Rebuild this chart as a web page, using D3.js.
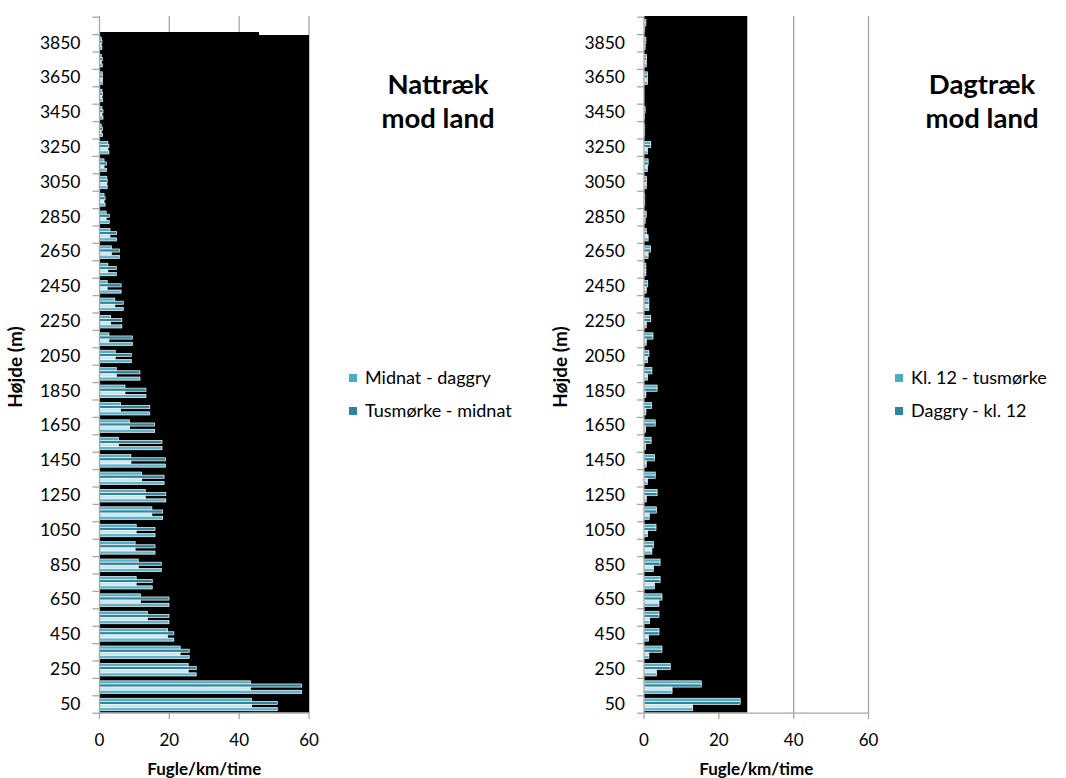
<!DOCTYPE html>
<html><head><meta charset="utf-8">
<script src="https://cdn.jsdelivr.net/npm/d3@7"></script>
<style>body{margin:0;background:#fff}svg{display:block}text{font-family:Lato,"Open Sans",sans-serif;fill:#000}</style>
</head><body>
<svg id="c" width="1066" height="778"></svg>
<script>
// Height categories (m), bottom to top
const heights = [50,150,250,350,450,550,650,750,850,950,1050,1150,1250,1350,1450,1550,1650,1750,1850,1950,2050,2150,2250,2350,2450,2550,2650,2750,2850,2950,3050,3150,3250,3350,3450,3550,3650,3750,3850,3950];
const yTickLabels = [50,250,450,650,850,1050,1250,1450,1650,1850,2050,2250,2450,2650,2850,3050,3250,3450,3650,3850];
const xTicks = [0,20,40,60];

// Night migration (Fugle/km/time)
const nightMidnatDaggry = [43.5,43.2,25.4,23.1,19.5,13.7,11.7,10.5,11.1,10.2,10.5,15.0,13.1,12.1,9.0,5.4,8.6,6.0,7.3,4.8,4.5,2.7,3.2,4.4,2.2,2.4,3.4,3.0,1.9,1.3,2.1,1.3,2.4,0.5,0.7,0.7,0.8,0.5,0.5,0];
const nightTusmorkeMidnat = [50.9,57.9,27.7,25.7,21.3,19.9,19.9,15.1,17.7,15.9,15.9,18.1,19.0,18.5,18.9,17.9,15.8,14.4,13.3,11.6,9.1,9.4,6.4,6.8,6.2,4.8,5.7,4.9,2.8,1.6,2.2,2.0,2.7,0.9,1.0,0.9,0.8,0.8,0.7,0];
// Day migration
const dayKl12Tusmorke = [25.7,15.3,7.0,4.8,4.0,4.0,4.8,4.3,4.3,2.5,3.2,3.3,3.5,3.0,2.8,1.9,3.0,2.0,3.5,2.1,1.3,2.4,1.8,1.3,1.0,0.5,1.7,0.6,0.6,0.2,0.7,1.1,1.8,0.2,0.3,0,0.9,0.7,0.5,0.5];
const dayDaggryKl12 = [13.0,7.5,3.3,1.3,1.2,1.5,4.0,2.8,2.5,2.1,0.9,1.4,0.6,0.9,0.6,0.4,0.4,0.5,0.5,0.9,0.9,0.6,0.6,1.3,0.6,0.5,1.1,1.1,0.3,0.2,0.6,0.9,0.9,0.1,0.1,0,0.9,0.6,0.3,0.2];

const svg = d3.select("#c");
const stripeColors = ["#4FAFC8","#31849B","#C9E5EE","#5EB6CE"];

function panel(opt){
  const g = svg.append("g");
  const x = d3.scaleLinear().domain([0,60]).range([opt.x0, opt.x1]);
  const y = d3.scaleBand().domain(heights.slice().reverse()).range([17.2, 713.2]).padding(0);
  const bw = y.bandwidth();
  const sub = d3.scaleBand().domain([0,1,2,3]).range([bw*0.14, bw*0.86]).padding(0);
  // gridlines
  g.selectAll(".grid").data(xTicks.slice(1)).join("line")
    .attr("x1",d=>x(d)).attr("x2",d=>x(d)).attr("y1",16).attr("y2",713.2)
    .attr("stroke","#A6A6A6").attr("stroke-width",1.3);
  // black background block
  g.append("path").attr("d", opt.block(x,y)).attr("fill","#000");
  // bars: 4 stripes per category
  heights.forEach((h,i)=>{
    const vals = opt.stripes(i);
    vals.forEach((v,k)=>{
      if(v<=0) return;
      g.append("rect").attr("x",x(0)).attr("y",y(h)+sub(k))
        .attr("width",x(v)-x(0)).attr("height",sub.bandwidth())
        .attr("fill",stripeColors[k]).attr("stroke","#fff").attr("stroke-width",0.7);
    });
  });
  // axes
  g.append("line").attr("x1",x(0)).attr("x2",x(0)).attr("y1",16).attr("y2",713.2).attr("stroke","#A6A6A6").attr("stroke-width",1.3);
  g.append("line").attr("x1",x(0)).attr("x2",x(60)).attr("y1",713.2).attr("y2",713.2).attr("stroke","#A6A6A6").attr("stroke-width",1.3);
  const bounds = heights.map(h=>y(h)+bw).concat([y(heights[heights.length-1])]);
  g.selectAll(".yt").data(bounds).join("line")
    .attr("x1",x(0)-7).attr("x2",x(0)).attr("y1",d=>d).attr("y2",d=>d).attr("stroke","#A6A6A6").attr("stroke-width",1.3);
  g.selectAll(".xt").data(xTicks).join("line")
    .attr("x1",d=>x(d)).attr("x2",d=>x(d)).attr("y1",713.2).attr("y2",719).attr("stroke","#A6A6A6").attr("stroke-width",1.3);
  g.selectAll(".yl").data(yTickLabels).join("text")
    .attr("x",x(0)-19).attr("y",d=>y(d)+bw/2).attr("dy","0.3em").attr("text-anchor","end")
    .attr("font-size",17.5).text(d=>d);
  g.selectAll(".xl").data(xTicks).join("text")
    .attr("x",d=>x(d)).attr("y",746).attr("text-anchor","middle").attr("font-size",17).text(d=>d);
  g.append("text").attr("x",(x(0)+x(60))/2).attr("y",775).attr("text-anchor","middle")
    .attr("font-size",17).attr("font-weight","bold").text("Fugle/km/time");
  g.append("text").attr("transform",`translate(${opt.ytx},367) rotate(-90)`).attr("text-anchor","middle")
    .attr("font-size",19).attr("font-weight","bold").text("Højde (m)");
  // title
  opt.title.forEach((t,i)=>g.append("text").attr("x",opt.tx).attr("y",94+i*34).attr("text-anchor","middle")
    .attr("font-size",27.5).attr("font-weight","bold").text(t));
  // legend
  opt.legend.forEach((l,i)=>{
    g.append("rect").attr("x",opt.lx).attr("y",374+i*33).attr("width",8).attr("height",8).attr("fill",l.c);
    g.append("text").attr("x",opt.lx+16).attr("y",384+i*33).attr("font-size",18).text(l.t);
  });
}

panel({x0:99.5,x1:309,ytx:22,tx:438,lx:349,
  title:["Nattræk","mod land"],
  legend:[{t:"Midnat - daggry",c:"#4BACC6"},{t:"Tusmørke - midnat",c:"#31849B"}],
  stripes:i=>[nightMidnatDaggry[i],nightTusmorkeMidnat[i],nightMidnatDaggry[i],nightTusmorkeMidnat[i]],
  block:(x,y)=>{const t1=32,t2=35;return `M${x(0)},${t1}H${x(45.7)}V${t2}H${x(60)}V712.5H${x(0)}Z`;}
});
panel({x0:644,x1:868.5,ytx:567,tx:982,lx:895,
  title:["Dagtræk","mod land"],
  legend:[{t:"Kl. 12 - tusmørke",c:"#4BACC6"},{t:"Daggry - kl. 12",c:"#31849B"}],
  stripes:i=>[dayKl12Tusmorke[i],dayKl12Tusmorke[i],dayDaggryKl12[i],dayDaggryKl12[i]],
  block:(x,y)=>`M${x(0)},16H${x(27.6)}V712.5H${x(0)}Z`
});
</script>
</body></html>
